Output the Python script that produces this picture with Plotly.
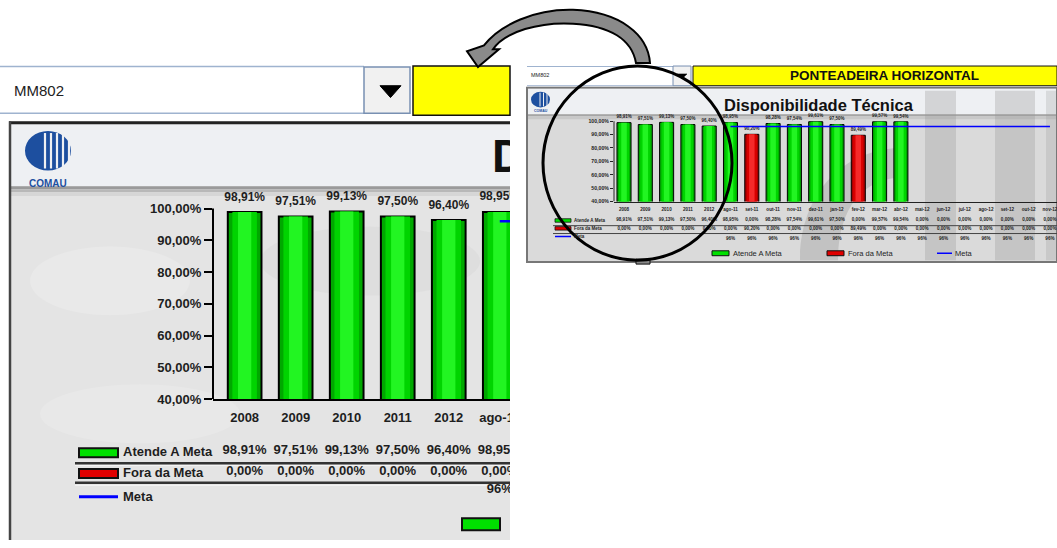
import plotly.graph_objects as go

W, H = 1057, 548
FONT = "Liberation Sans, Arial, sans-serif"

# ---------------- data ----------------
categories = ["2008", "2009", "2010", "2011", "2012", "ago-11", "set-11", "out-11",
              "nov-11", "dez-11", "jan-12", "fev-12", "mar-12", "abr-12", "mai-12",
              "jun-12", "jul-12", "ago-12", "set-12", "out-12", "nov-12"]
atende = [98.91, 97.51, 99.13, 97.50, 96.40, 98.95, 0.00, 98.28, 97.54, 99.61, 97.50,
          0.00, 99.57, 99.54, 0.00, 0.00, 0.00, 0.00, 0.00, 0.00, 0.00]
fora = [0.00, 0.00, 0.00, 0.00, 0.00, 0.00, 90.20, 0.00, 0.00, 0.00, 0.00,
        89.49, 0.00, 0.00, 0.00, 0.00, 0.00, 0.00, 0.00, 0.00, 0.00]
meta = [None, None, None, None, None] + [96] * 16
y_ticks = [40, 50, 60, 70, 80, 90, 100]
series_names = ["Atende A Meta", "Fora da Meta", "Meta"]
title_text = "Disponibilidade Técnica"
machine = "MM802"
header_text = "PONTEADEIRA HORIZONTAL"


def fx(p):
    return p / W


def fy(p):
    return 1 - p / H


def P(x, y):
    return f"{fx(x):.5f},{fy(y):.5f}"


def pct(v):
    return f"{v:.2f}".replace(".", ",") + "%"


def meta_txt(v):
    return "" if v is None else f"{v:d}%"


GREEN_SHADES = ["#00a800", "#00d400", "#22f522"]
RED_SHADES = ["#a80000", "#d80000", "#f52a2a"]
GREEN = "#00e000"
RED = "#e00000"
BLUE = "#0000ff"
TXT = "#1e1e1e"

big_range = [-0.62, 5.2]
small_range = [-0.47, 20.33]

fig = go.Figure()


def visible(i, rng):
    return i - 0.5 <= rng[1]


def add_bars(xa, ya, rng, lw, tsize, label_marker, mw):
    for vals, shades in ((atende, GREEN_SHADES), (fora, RED_SHADES)):
        # outlined bar, then two narrower lighter layers for a cylinder-like shading
        for k, (wdt, col) in enumerate(zip((0.66, 0.48, 0.26), shades)):
            fig.add_trace(go.Bar(
                x=categories, y=vals, xaxis=xa, yaxis=ya, width=wdt,
                marker=dict(color=col, line=dict(color="black", width=lw if k == 0 else 0)),
                showlegend=False, hoverinfo="skip"))
    # value labels above the bars
    lab_x, lab_y, lab_t = [], [], []
    for i, c in enumerate(categories):
        if not visible(i, rng):
            continue
        v = max(atende[i], fora[i])
        if v:
            lab_x.append(c)
            lab_y.append(v)
            lab_t.append(pct(v))
    fig.add_trace(go.Scatter(
        x=lab_x, y=lab_y, xaxis=xa, yaxis=ya, mode="markers+text", text=lab_t,
        textposition="top center", cliponaxis=True,
        marker=dict(size=label_marker, opacity=0),
        textfont=dict(family=FONT, size=tsize, color=TXT, weight="bold"),
        showlegend=False, hoverinfo="skip"))
    fig.add_trace(go.Scatter(
        x=categories, y=meta, xaxis=xa, yaxis=ya, mode="lines",
        line=dict(color=BLUE, width=mw), cliponaxis=True,
        showlegend=False, hoverinfo="skip"))


def add_table(xa, ya, rng, rows, size):
    # rows: table row name -> pixel row position (layout only)
    cols = [
        ("cat", categories),
        ("atende", [pct(v) for v in atende]),
        ("fora", [pct(v) for v in fora]),
        ("meta", [meta_txt(v) for v in meta]),
    ]
    for key, texts in cols:
        shown = [t if visible(i, rng) else "" for i, t in enumerate(texts)]
        fig.add_trace(go.Scatter(
            x=categories, y=[rows[key]] * len(categories), xaxis=xa, yaxis=ya,
            mode="text", text=shown, textposition="middle center",
            textfont=dict(family=FONT, size=size, color=TXT, weight="bold"),
            cliponaxis=True, showlegend=False, hoverinfo="skip"))


# big (zoomed) chart
add_bars("x", "y", big_range, 2, 12, 12, 2.5)
add_table("x3", "y3", big_range, {"cat": 425, "atende": 457, "fora": 479, "meta": 497}, 13)
# small full chart
add_bars("x2", "y2", small_range, 1, 4.5, 3.5, 1.5)
add_table("x4", "y4", small_range,
          {"cat": 212.7, "atende": 223.5, "fora": 232, "meta": 242}, 4.6)

# clipped big title (only its first letter is visible in the zoomed crop)
fig.add_trace(go.Scatter(
    x=[0], y=[0.5], xaxis="x5", yaxis="y5", mode="text", text=[title_text[0]],
    textposition="middle right", cliponaxis=True,
    textfont=dict(family=FONT, size=46, color="#111", weight="bold"),
    showlegend=False, hoverinfo="skip"))

# ---------------- axes ----------------
big_x = [fx(213), fx(510)]
small_x = [fx(614), 1.0]

common_cat = dict(type="category", showgrid=False, zeroline=False, fixedrange=True)

layout_axes = dict(
    xaxis=dict(domain=big_x, range=big_range, showline=True, linecolor="black",
               linewidth=2, ticks="", showticklabels=False, **common_cat),
    yaxis=dict(domain=[fy(405), fy(190.76)], range=[40, 106.5], tickvals=y_ticks,
               ticktext=[pct(v) for v in y_ticks], ticks="outside", ticklen=8,
               tickwidth=2, tickcolor="black", showline=False, showgrid=False,
               zeroline=False,
               tickfont=dict(family=FONT, size=13, color=TXT, weight="bold"),
               anchor="x", fixedrange=True),
    xaxis2=dict(domain=small_x, range=small_range, showline=True, linecolor="#222",
                linewidth=1, ticks="", showticklabels=False, anchor="y2", **common_cat),
    yaxis2=dict(domain=[fy(204.5), fy(114.85)], range=[40, 106], tickvals=y_ticks,
                ticktext=[pct(v) for v in y_ticks], ticks="outside", ticklen=3,
                tickwidth=1, tickcolor="#222", showline=False, showgrid=False,
                zeroline=False,
                tickfont=dict(family=FONT, size=5.2, color=TXT, weight="bold"),
                anchor="x2", fixedrange=True),
    xaxis3=dict(domain=big_x, range=big_range, visible=False, anchor="y3", **common_cat),
    yaxis3=dict(domain=[fy(512), fy(412)], range=[512, 412], visible=False,
                anchor="x3", fixedrange=True),
    xaxis4=dict(domain=small_x, range=small_range, visible=False, anchor="y4", **common_cat),
    yaxis4=dict(domain=[fy(252), fy(206)], range=[252, 206], visible=False,
                anchor="x4", fixedrange=True),
    xaxis5=dict(domain=[fx(492), fx(510)], range=[0, 1], visible=False, anchor="y5",
                fixedrange=True),
    yaxis5=dict(domain=[fy(192), fy(134)], range=[0, 1], visible=False, anchor="x5",
                fixedrange=True),
)

# ---------------- shapes ----------------
shapes = []


def rect(x0, y0, x1, y1, fill, line=None, lw=0, layer="below"):
    shapes.append(dict(type="rect", xref="paper", yref="paper",
                       x0=fx(x0), x1=fx(x1), y0=fy(y1), y1=fy(y0),
                       fillcolor=fill, line=dict(color=line or fill, width=lw),
                       layer=layer))


def line(x0, y0, x1, y1, color, w, layer="below"):
    shapes.append(dict(type="line", xref="paper", yref="paper",
                       x0=fx(x0), x1=fx(x1), y0=fy(y0), y1=fy(y1),
                       line=dict(color=color, width=w), layer=layer))


def path(d, fill, color, w, layer="below"):
    shapes.append(dict(type="path", xref="paper", yref="paper", path=d,
                       fillcolor=fill, line=dict(color=color, width=w), layer=layer))


def ellipse(x0, y0, x1, y1, fill, color=None, w=0, layer="below"):
    shapes.append(dict(type="circle", xref="paper", yref="paper",
                       x0=fx(x0), x1=fx(x1), y0=fy(y1), y1=fy(y0),
                       fillcolor=fill, line=dict(color=color or fill, width=w),
                       layer=layer))


# --- big left panel ---
line(0, 67.5, 364, 67.5, "#9fb3cf", 1.5)
line(0, 115, 364, 115, "#9fb3cf", 1.5)
rect(364, 68, 410, 115, "#f1f1f1", "#7890b2", 1.5)
path(f"M {P(380,87)} L {P(401,87)} L {P(390.5,99)} Z", "black", "black", 1)
rect(413, 67, 510, 117, "#ffff00", "#111", 1.5)

rect(9, 123, 510, 548, "#e4e4e4")
rect(11, 126, 510, 189, "#eef0f3")
rect(11, 189, 510, 192, "#9a9a9a")
rect(11, 192, 510, 195, "#b8b8b8")
rect(11, 195, 510, 199, "#d6d6d6")
line(9, 124.5, 510, 124.5, "#222", 3)
line(10, 123, 10, 548, "#444", 2.5)
# subtle texture patches
ellipse(30, 250, 190, 320, "rgba(255,255,255,0.18)")
ellipse(40, 390, 240, 450, "rgba(255,255,255,0.15)")
ellipse(260, 230, 480, 300, "rgba(190,190,190,0.15)")

# logo (big)
ellipse(25, 133, 71, 173, "#1d4f9f")
for xs in (45, 51, 57, 63, 69):
    line(xs, 135, xs, 171, "#eef0f3", 2.2)

# table lines big
line(75, 470, 510, 470, "#333", 2.5)
line(75, 472.5, 510, 472.5, "#f5f5f5", 1)
line(75, 490, 510, 490, "#333", 2.5)
line(75, 492.5, 510, 492.5, "#f5f5f5", 1)
# row swatches big
rect(79, 455, 118, 464, GREEN, "#111", 2)
rect(79, 476, 118, 485, RED, "#111", 2)
line(79, 504, 118, 504, BLUE, 3)
# bottom legend fragment big
rect(462, 526, 500, 538, GREEN, "#111", 2)

# y axis line big (40..100)
shapes.append(dict(type="line", xref="x domain", yref="y", x0=0, x1=0, y0=40, y1=100,
                   line=dict(color="black", width=2), layer="below"))

# --- small right panel ---
line(527, 67.5, 673, 67.5, "#9fb3cf", 1)
line(527, 87, 673, 87, "#9fb3cf", 1)
rect(673, 67, 691, 87, "#f1f1f1", "#7890b2", 1)
path(f"M {P(677,75)} L {P(687,75)} L {P(682,80)} Z", "black", "black", 0.5)
rect(693, 67, 1057, 87, "#ffff00", "#111", 1)

rect(527, 89, 1057, 266, "#dadada", "#777", 2)
rect(528, 90, 1056, 116, "#eef0f3")
rect(528, 116, 1056, 118, "#a5a5a5")
rect(528, 118, 1056, 121, "#c8c8c8")
# watermark (large faded logo shapes, kept inside the panel)
rect(925, 92, 956, 264, "rgba(150,150,150,0.30)")
rect(995, 92, 1035, 264, "rgba(150,150,150,0.30)")
rect(1046, 92, 1056, 264, "rgba(150,150,150,0.25)")
path(f"M {P(800,264)} C {P(800,200)} {P(840,150)} {P(905,150)} L {P(905,180)} "
     f"C {P(860,180)} {P(838,215)} {P(838,264)} Z",
     "rgba(140,140,140,0.30)", "rgba(0,0,0,0)", 0)

# logo (small)
ellipse(531, 93, 550, 109, "#1d4f9f")
for xs in (540, 543.5, 547):
    line(xs, 94, xs, 108, "#eef0f3", 1)

# table lines small
line(553, 229, 1057, 229, "#444", 1)
line(553, 237, 1057, 237, "#444", 1)
# row swatches small
rect(555, 222, 571, 225.5, GREEN, "#111", 0.8)
rect(555, 230, 571, 233.5, RED, "#111", 0.8)
line(555, 240, 571, 240, BLUE, 1.5)
# bottom legend small
rect(712, 254.5, 729, 259.5, GREEN, "#111", 1)
rect(827, 254.5, 844, 259.5, RED, "#111", 1)
line(937, 257, 952, 257, BLUE, 1.5)

shapes.append(dict(type="line", xref="x2 domain", yref="y2", x0=0, x1=0, y0=40, y1=100,
                   line=dict(color="#222", width=1), layer="below"))

# --- magnifier + arrow (above) ---
rect(636, 263, 650, 268, "#888", "#111", 1, layer="above")
ellipse(543, 67, 732, 264, "rgba(0,0,0,0)", "black", 3, layer="above")
arrow = (f"M {P(650,64)} C {P(648,35)} {P(620,12)} {P(573,10)} "
         f"C {P(535,9)} {P(500,25)} {P(484,46)} L {P(467,52)} L {P(478,68)} "
         f"L {P(499,50)} L {P(493,50)} C {P(505,32)} {P(540,22)} {P(573,24)} "
         f"C {P(610,26)} {P(632,40)} {P(636,64)} Z")
path(arrow, "#8a8a8a", "black", 2, layer="above")

# ---------------- annotations ----------------
annotations = []


def text(x, y, s, size, anchor="left", color=TXT, bold=False):
    annotations.append(dict(
        xref="paper", yref="paper", x=fx(x), y=fy(y), text=s, showarrow=False,
        xanchor=anchor, yanchor="middle",
        font=dict(family=FONT, size=size, color=color, weight="bold" if bold else "normal")))


text(12, 92, machine, 15, color="#222")
text(48, 186, "COMAU", 10, anchor="center", color="#1d4f9f", bold=True)
text(121, 458, series_names[0], 13, bold=True)
text(121, 480, series_names[1], 13, bold=True)
text(121, 504, series_names[2], 13, bold=True)

text(529, 76.5, machine, 5.5, color="#222")
text(884.5, 76.5, header_text, 13.5, anchor="center", color="#111", bold=True)
text(819, 107, title_text, 16.5, anchor="center", color="#111", bold=True)
text(540.5, 112.5, "COMAU", 3.5, anchor="center", color="#1d4f9f", bold=True)
text(572, 224, series_names[0], 4.5, bold=True)
text(572, 232, series_names[1], 4.5, bold=True)
text(572, 240.5, series_names[2], 4.5, bold=True)
text(730.5, 257, series_names[0], 7.5)
text(845.5, 257, series_names[1], 7.5)
text(953, 257, series_names[2], 7.5)

fig.update_layout(
    width=W, height=H, autosize=False,
    margin=dict(l=0, r=0, t=0, b=0, pad=0),
    paper_bgcolor="white", plot_bgcolor="rgba(0,0,0,0)",
    barmode="overlay", separators=",.",
    shapes=shapes, annotations=annotations,
    showlegend=False,
    **layout_axes,
)

fig.write_html("out.html", config={"displayModeBar": False})
